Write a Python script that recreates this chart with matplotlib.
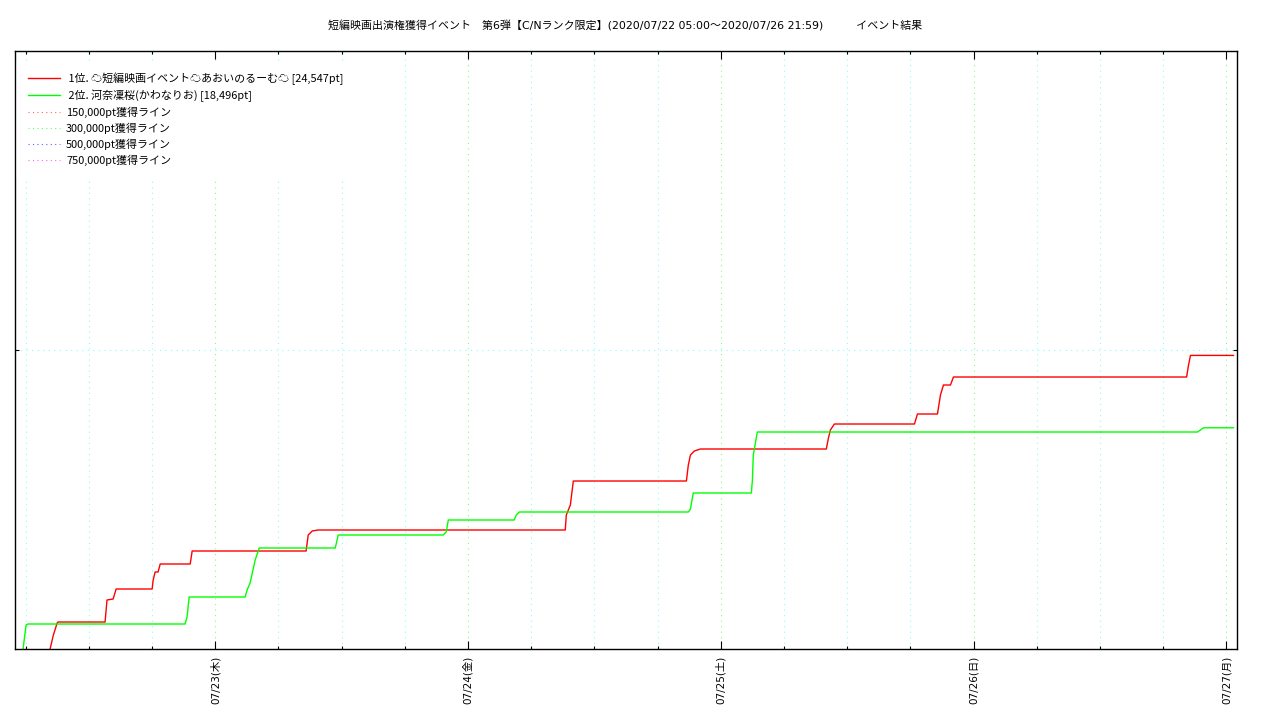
import matplotlib
matplotlib.use("Agg")
import matplotlib.pyplot as plt
import matplotlib.dates as mdates
import pandas as pd

plt.rcParams['font.family'] = ['DejaVu Sans', 'Noto Sans CJK JP']

TITLE = "短編映画出演権獲得イベント　第6弾【C/Nランク限定】(2020/07/22 05:00〜2020/07/26 21:59)　　　イベント結果"

# 1位 (red)
red_time = ["07/22 08:20", "07/22 08:37", "07/22 09:00", "07/22 09:05",
            "07/22 13:33", "07/22 13:44", "07/22 14:19", "07/22 14:36", "07/22 18:01",
            "07/22 18:07", "07/22 18:18", "07/22 18:35", "07/22 18:47", "07/22 21:38",
            "07/22 21:49", "07/23 08:38", "07/23 08:50", "07/23 09:13", "07/23 09:47",
            "07/24 09:14", "07/24 09:20", "07/24 09:43", "07/24 10:00", "07/24 20:44",
            "07/24 20:55", "07/24 21:07", "07/24 21:29", "07/24 22:04", "07/25 10:01",
            "07/25 10:13", "07/25 10:24", "07/25 10:47", "07/25 18:23", "07/25 18:40",
            "07/25 20:34", "07/25 20:51", "07/25 21:08", "07/25 21:48", "07/25 22:05",
            "07/26 20:13", "07/26 20:24", "07/26 20:35", "07/27 00:40"]
red_pt = [0, 1087, 2174, 2257,
          2257, 4097, 4180, 5017, 5017,
          5769, 6438, 6438, 7107, 7107,
          8194, 8194, 9532, 9866, 9950,
          9950, 11204, 12040, 14046, 14046,
          15384, 16220, 16555, 16722, 16722,
          17642, 18311, 18812, 18812, 19648,
          19648, 21237, 22073, 22073, 22742,
          22742, 23745, 24547, 24547]

# 2位 (green)
green_time = ["07/22 05:46", "07/22 06:03", "07/22 06:14", "07/22 21:09",
              "07/22 21:20", "07/22 21:32", "07/23 02:51", "07/23 03:02", "07/23 03:19",
              "07/23 03:48", "07/23 04:11", "07/23 11:24", "07/23 11:41", "07/23 21:39",
              "07/23 21:56", "07/23 22:08", "07/24 04:23", "07/24 04:35", "07/24 04:52",
              "07/24 20:55", "07/24 21:07", "07/24 21:23", "07/25 02:54", "07/25 03:00",
              "07/25 03:05", "07/25 03:28", "07/26 21:15", "07/26 21:32", "07/26 21:49",
              "07/27 00:40"]
green_pt = [0, 2007, 2090, 2090,
            2676, 4348, 4348, 4933, 5518,
            7441, 8445, 8445, 9532, 9532,
            9782, 10786, 10786, 11204, 11455,
            11455, 11705, 13043, 13043, 14130,
            16220, 18143, 18143, 18311, 18496,
            18496]

red_label = " 1位. ☁短編映画イベント☁あおいのるーむ☁ [24,547pt]"
green_label = " 2位. 河奈凜桜(かわなりお) [18,496pt]"

border_pt = [150000, 300000, 500000, 750000]
border_label = ["150,000pt獲得ライン", "300,000pt獲得ライン", "500,000pt獲得ライン", "750,000pt獲得ライン"]
border_color = ["#ff6060", "#60ff60", "#6060ff", "#ff60ff"]

day_ticks = ["07/23", "07/24", "07/25", "07/26", "07/27"]
day_names = ["木", "金", "土", "日", "月"]


def to_dt(lst):
    return pd.to_datetime(["2020/" + s for s in lst], format="%Y/%m/%d %H:%M")


fig = plt.figure(figsize=(12.8, 7.2), dpi=100)
ax = fig.add_axes([15 / 1280, 1 - 649 / 720, 1222 / 1280, 598 / 720])

ax.plot(to_dt(red_time), red_pt, color="red", lw=1.0, label=red_label, zorder=2)
ax.plot(to_dt(green_time), green_pt, color="#00ff00", lw=1.0, label=green_label, zorder=2)
for v, lab, c in zip(border_pt, border_label, border_color):
    ax.axhline(v, color=c, lw=0.8, ls=(0, (1, 3)), label=lab)

ax.set_xlim(pd.Timestamp("2020-07-22 05:00"), pd.Timestamp("2020-07-27 01:00"))
ax.set_ylim(0, 50000)

major = to_dt([d + " 00:00" for d in day_ticks])
ax.set_xticks(major)
ax.set_xticklabels([f"{d}({n})" for d, n in zip(day_ticks, day_names)], rotation=90, fontsize=7.5)
ax.xaxis.set_minor_locator(mdates.HourLocator(byhour=[0, 6, 12, 18]))
ax.set_yticks([25000])
ax.set_yticklabels([])

ax.tick_params(axis="x", which="major", direction="in", length=5.5, width=0.8, top=True, pad=5)
ax.tick_params(axis="x", which="minor", direction="in", length=2.5, width=0.8, top=True)
ax.tick_params(axis="y", direction="in", length=3, width=0.8, right=True)

ax.grid(True, axis="x", which="minor", color="#80ffff", ls=(0, (1, 4)), lw=0.8)
ax.grid(True, axis="x", which="major", color="#80ff80", ls=(0, (1, 4)), lw=0.8)
ax.grid(True, axis="y", which="major", color="#80ffff", ls=(0, (1, 4)), lw=0.8)

for s in ax.spines.values():
    s.set_linewidth(1.0)
    s.set_zorder(3)

leg = ax.legend(loc="upper left", bbox_to_anchor=(1.6 / 1222, 1 - 10.6 / 598),
                prop={"family": ["Noto Sans CJK JP", "DejaVu Sans"], "size": 7.9},
                frameon=True, fancybox=False,
                handlelength=3.0, handletextpad=0.5, labelspacing=0.42,
                borderaxespad=0.0, borderpad=1.0)
leg.get_frame().set_edgecolor("white")
leg.get_frame().set_alpha(1.0)
leg.set_zorder(5)

fig.text(625 / 1280, 1 - 26 / 720, TITLE, ha="center", va="center", fontsize=7.9)

fig.savefig("out.png", dpi=100)
